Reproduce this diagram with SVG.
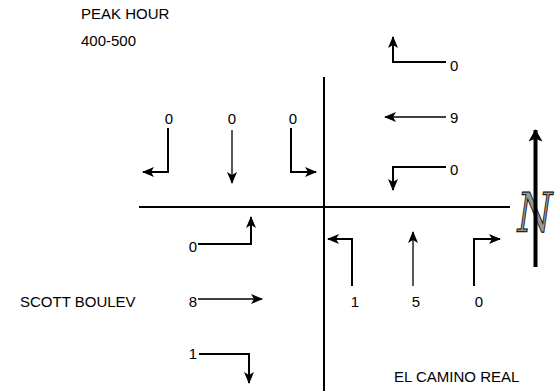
<svg xmlns="http://www.w3.org/2000/svg" width="555" height="391" viewBox="0 0 555 391">
<style>
text{font-family:"Liberation Sans",Arial,sans-serif;font-size:15px;fill:#000}
.road{stroke:#000;stroke-width:2;fill:none}
.turn{stroke:#000;stroke-width:2;fill:none;marker-end:url(#ah)}
.thru{stroke:#000;stroke-width:1.3;fill:none;marker-end:url(#ah)}
.num{text-anchor:middle}
</style>
<defs>
<marker id="ah" viewBox="0 0 12 10" refX="11" refY="5" markerWidth="12" markerHeight="10" markerUnits="userSpaceOnUse" orient="auto">
<path d="M0,0 L12,5 L0,10 L3,5 z" fill="#000"/>
</marker>
<marker id="nh" viewBox="0 0 14 16" refX="13" refY="8" markerWidth="16" markerHeight="14" markerUnits="userSpaceOnUse" orient="auto">
<path d="M0,0 L14,8 L0,16 L3,8 z" fill="#000"/>
</marker>
</defs>
<g id="labels">
<text x="81" y="19">PEAK HOUR</text>
<text x="81" y="45.5">400-500</text>
<text x="20" y="307">SCOTT BOULEV</text>
<text x="394" y="382">EL CAMINO REAL</text>
</g>
<g id="roads">
<line class="road" x1="324" y1="77" x2="324" y2="391"/>
<line class="road" x1="139" y1="207" x2="510" y2="207"/>
</g>
<g id="north">
<text transform="translate(535,232) scale(0.95,1.3)" style="font-family:'DejaVu Serif',serif;font-style:italic;font-size:42px;fill:#999;stroke:#000;stroke-width:0.8;text-anchor:middle">N</text>
<line x1="535.5" y1="267" x2="535.5" y2="130" stroke="#000" stroke-width="4" marker-end="url(#nh)"/>
</g>
<g id="connectors">
<path class="turn" d="M168,128 V172 H143"/>
<path class="thru" d="M232,130 V183"/>
<path class="turn" d="M291,128 V172 H316"/>
<path class="turn" d="M446,62 H393 V37"/>
<path class="thru" d="M446,117 H385"/>
<path class="turn" d="M446,167 H393 V190"/>
<path class="turn" d="M198,244 H251 V217"/>
<path class="thru" d="M198,299 H262"/>
<path class="turn" d="M199,354 H249 V383"/>
<path class="turn" d="M352,286 V239 H328"/>
<path class="thru" d="M413,286 V232"/>
<path class="turn" d="M474,286 V239 H500"/>
</g>
<g id="counts">
<text class="num" x="169" y="123.5">0</text>
<text class="num" x="232" y="123.5">0</text>
<text class="num" x="293" y="123.5">0</text>
<text x="450" y="71">0</text>
<text x="450" y="123">9</text>
<text x="450" y="175">0</text>
<text x="197" y="252" style="text-anchor:end">0</text>
<text x="197" y="307" style="text-anchor:end">8</text>
<text x="197" y="359" style="text-anchor:end">1</text>
<text class="num" x="355" y="307">1</text>
<text class="num" x="416" y="307">5</text>
<text class="num" x="479" y="307">0</text>
</g>
</svg>
